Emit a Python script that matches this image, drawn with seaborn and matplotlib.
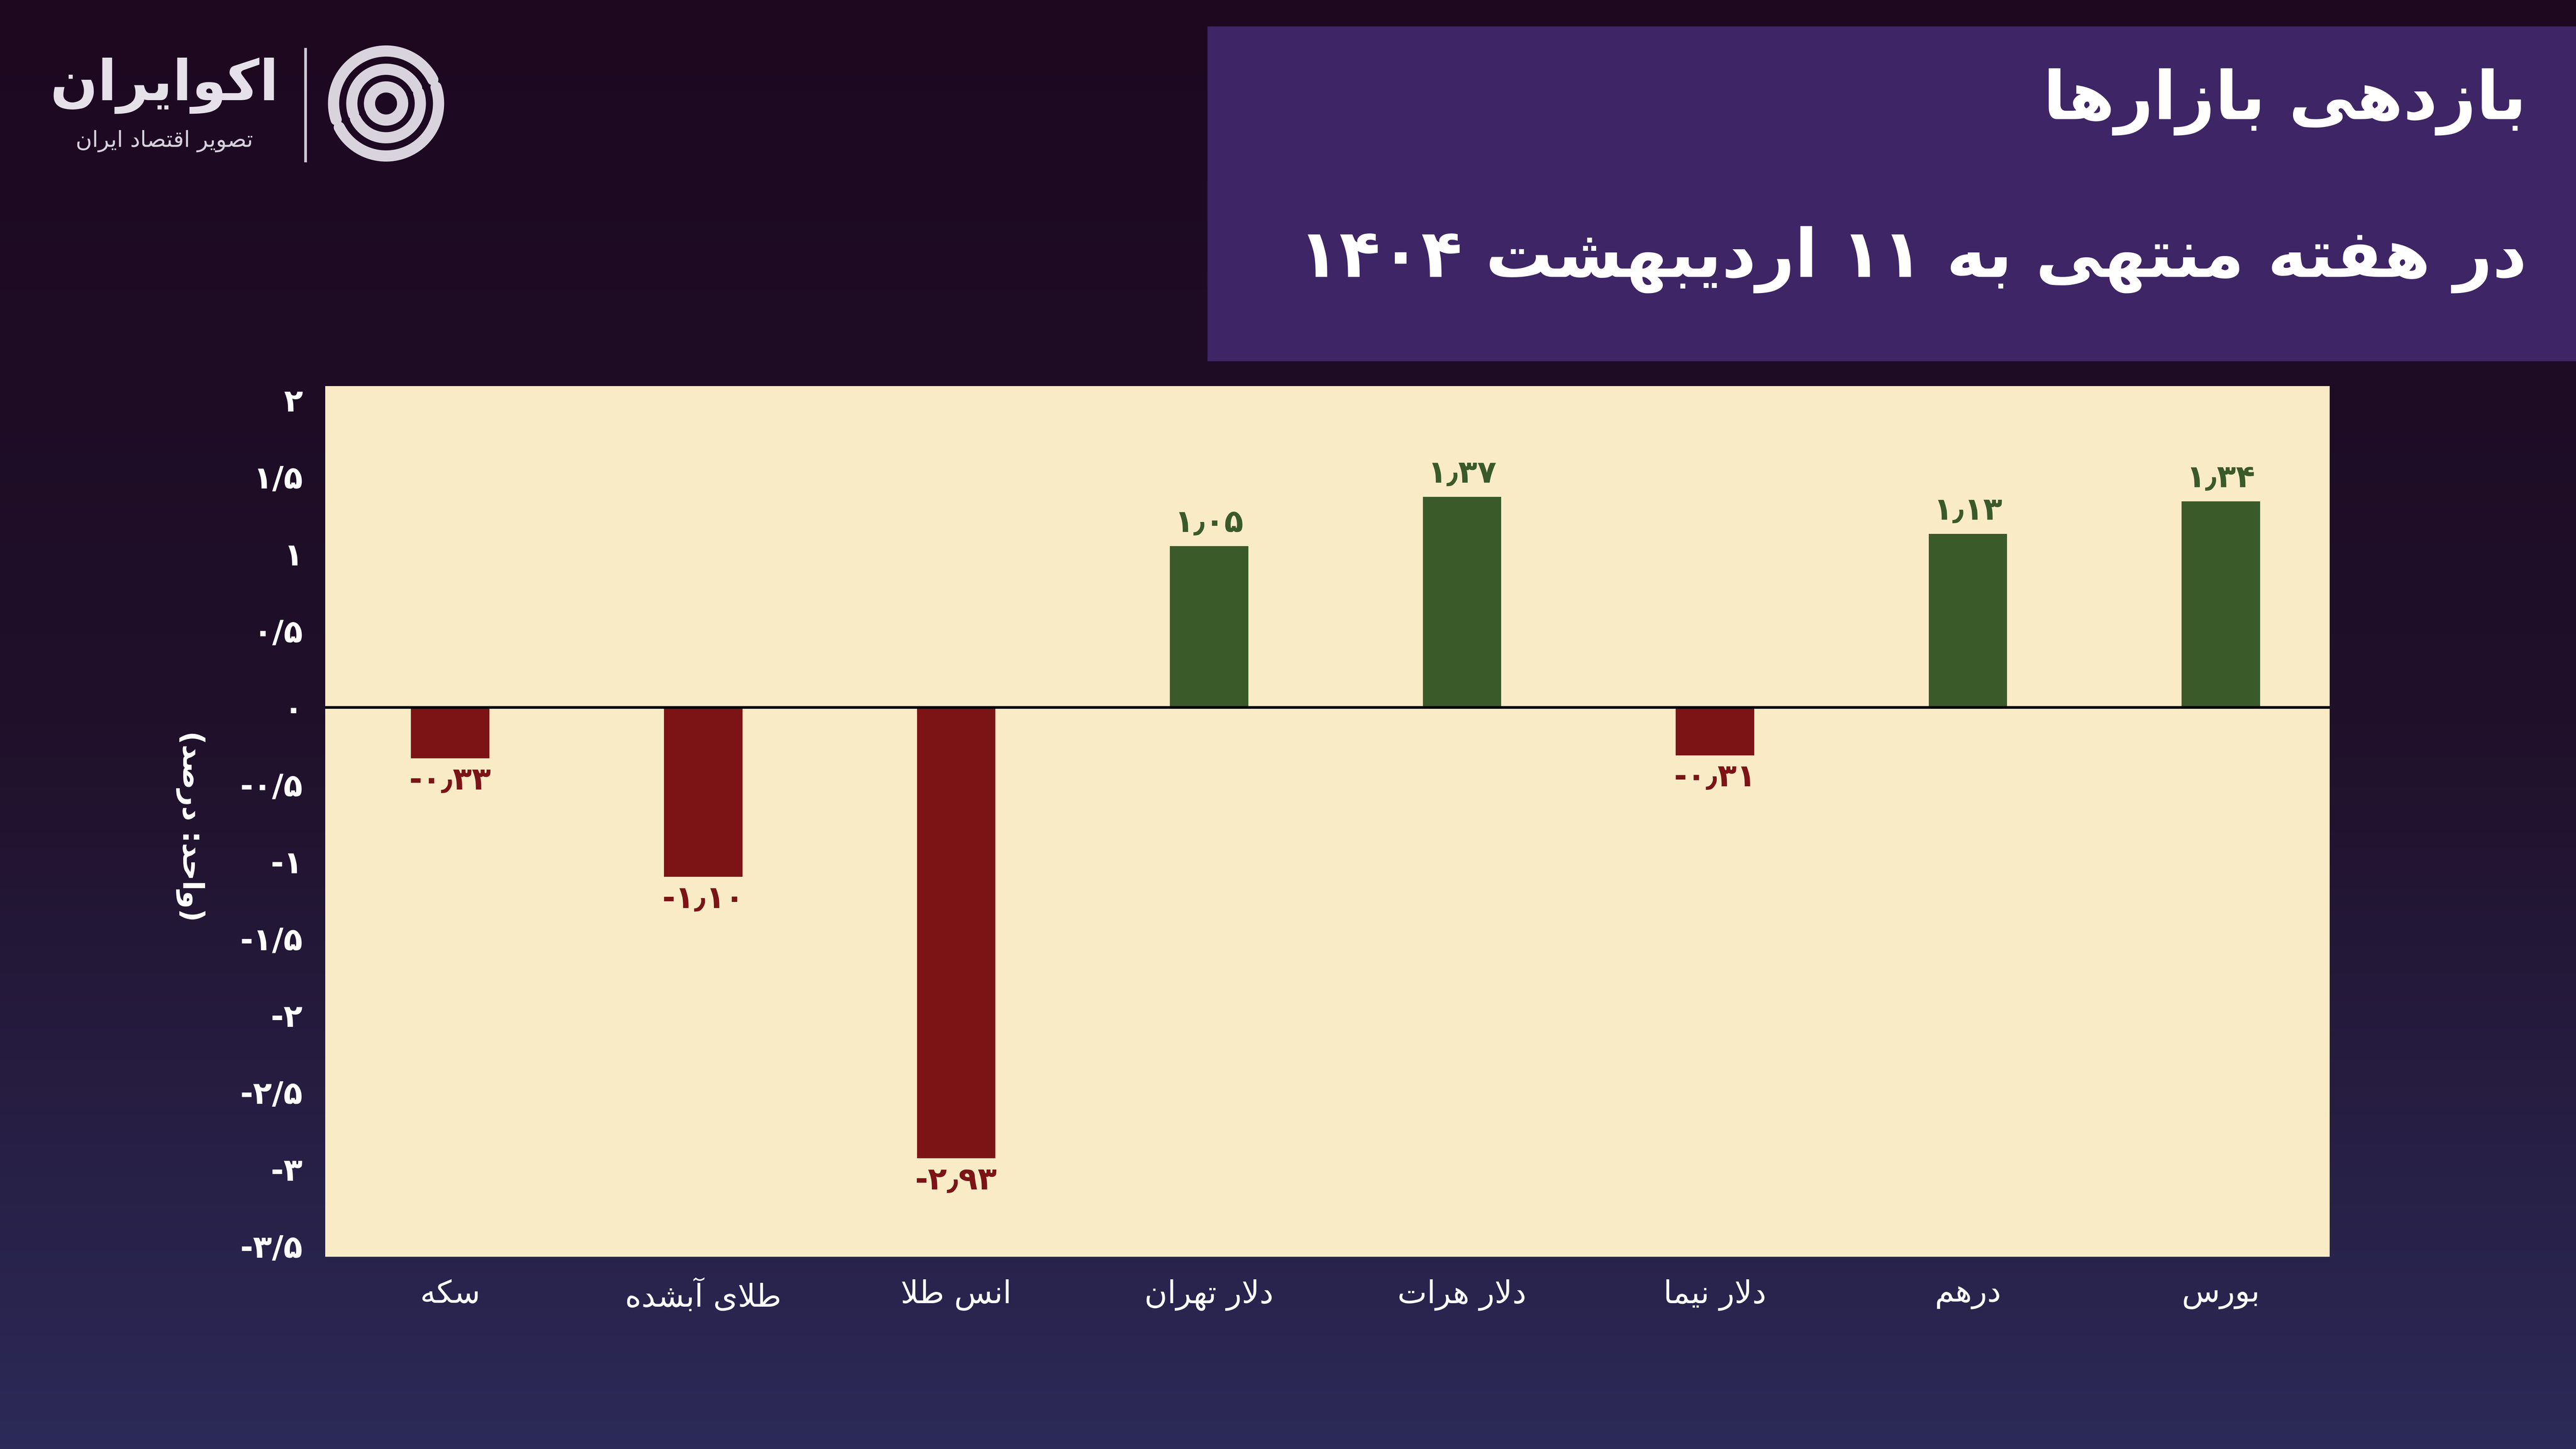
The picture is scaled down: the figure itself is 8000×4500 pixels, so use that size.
import numpy as np
import pandas as pd
import matplotlib
matplotlib.use("Agg")
import matplotlib.pyplot as plt
import seaborn as sns
from matplotlib.colors import LinearSegmentedColormap

# ---------------- data ----------------
categories = ["سکه", "طلای آبشده", "انس طلا", "دلار تهران", "دلار هرات", "دلار نیما", "درهم", "بورس"]
values = [-0.33, -1.10, -2.93, 1.05, 1.37, -0.31, 1.13, 1.34]
value_labels = ["-۰٫۳۳", "-۱٫۱۰", "-۲٫۹۳", "۱٫۰۵", "۱٫۳۷", "-۰٫۳۱", "۱٫۱۳", "۱٫۳۴"]
y_ticks = [2, 1.5, 1, 0.5, 0, -0.5, -1, -1.5, -2, -2.5, -3, -3.5]
y_tick_labels = ["۲", "۱/۵", "۱", "۰/۵", "۰", "-۰/۵", "-۱", "-۱/۵", "-۲", "-۲/۵", "-۳", "-۳/۵"]
title = "بازدهی بازارها"
subtitle = "در هفته منتهی به ۱۱ اردیبهشت ۱۴۰۴"
y_label = "(واحد: درصد)"
brand = "اکوایران"
brand_sub = "تصویر اقتصاد ایران"

# ---------------- minimal Arabic/Persian shaper ----------------
FORMS = {
    'ا': (0xFE8D, 0xFE8E, None, None), 'آ': (0xFE81, 0xFE82, None, None),
    'ب': (0xFE8F, 0xFE90, 0xFE91, 0xFE92), 'پ': (0xFB56, 0xFB57, 0xFB58, 0xFB59),
    'ت': (0xFE95, 0xFE96, 0xFE97, 0xFE98), 'ث': (0xFE99, 0xFE9A, 0xFE9B, 0xFE9C),
    'ج': (0xFE9D, 0xFE9E, 0xFE9F, 0xFEA0), 'چ': (0xFB7A, 0xFB7B, 0xFB7C, 0xFB7D),
    'ح': (0xFEA1, 0xFEA2, 0xFEA3, 0xFEA4), 'خ': (0xFEA5, 0xFEA6, 0xFEA7, 0xFEA8),
    'د': (0xFEA9, 0xFEAA, None, None), 'ذ': (0xFEAB, 0xFEAC, None, None),
    'ر': (0xFEAD, 0xFEAE, None, None), 'ز': (0xFEAF, 0xFEB0, None, None),
    'ژ': (0xFB8A, 0xFB8B, None, None),
    'س': (0xFEB1, 0xFEB2, 0xFEB3, 0xFEB4), 'ش': (0xFEB5, 0xFEB6, 0xFEB7, 0xFEB8),
    'ص': (0xFEB9, 0xFEBA, 0xFEBB, 0xFEBC), 'ض': (0xFEBD, 0xFEBE, 0xFEBF, 0xFEC0),
    'ط': (0xFEC1, 0xFEC2, 0xFEC3, 0xFEC4), 'ظ': (0xFEC5, 0xFEC6, 0xFEC7, 0xFEC8),
    'ع': (0xFEC9, 0xFECA, 0xFECB, 0xFECC), 'غ': (0xFECD, 0xFECE, 0xFECF, 0xFED0),
    'ف': (0xFED1, 0xFED2, 0xFED3, 0xFED4), 'ق': (0xFED5, 0xFED6, 0xFED7, 0xFED8),
    'ک': (0xFB8E, 0xFB8F, 0xFB90, 0xFB91), 'گ': (0xFB92, 0xFB93, 0xFB94, 0xFB95),
    'ل': (0xFEDD, 0xFEDE, 0xFEDF, 0xFEE0), 'م': (0xFEE1, 0xFEE2, 0xFEE3, 0xFEE4),
    'ن': (0xFEE5, 0xFEE6, 0xFEE7, 0xFEE8), 'و': (0xFEED, 0xFEEE, None, None),
    'ه': (0xFEE9, 0xFEEA, 0xFEEB, 0xFEEC), 'ی': (0xFBFC, 0xFBFD, 0xFBFE, 0xFBFF),
}
LAM_ALEF = {'ا': (0xFEFB, 0xFEFC), 'آ': (0xFEF5, 0xFEF6)}


def joins_left(c):
    return c in FORMS and FORMS[c][2] is not None


def shape(text):
    chars = list(text)
    out = []
    i = 0
    n = len(chars)
    while i < n:
        c = chars[i]
        if c not in FORMS:
            out.append(c)
            i += 1
            continue
        prev = chars[i - 1] if i > 0 else None
        pj = prev is not None and joins_left(prev)
        if c == 'ل' and i + 1 < n and chars[i + 1] in LAM_ALEF:
            iso, fin = LAM_ALEF[chars[i + 1]]
            out.append(chr(fin if pj else iso))
            i += 2
            continue
        nxt = chars[i + 1] if i + 1 < n else None
        nj = joins_left(c) and nxt is not None and nxt in FORMS
        iso, fin, ini, med = FORMS[c]
        if pj and nj:
            f = med
        elif pj:
            f = fin
        elif nj:
            f = ini
        else:
            f = iso
        out.append(chr(f))
        i += 1
    return out


DIGITISH = set("-۰۱۲۳۴۵۶۷۸۹0123456789٫/.")
MIRROR = {'(': ')', ')': '('}


def fa(text):
    shaped = shape(text)
    runs = []
    buf = []
    for ch in shaped:
        if ch in DIGITISH:
            buf.append(ch)
        else:
            if buf:
                runs.append(''.join(buf)); buf = []
            runs.append(MIRROR.get(ch, ch))
    if buf:
        runs.append(''.join(buf))
    return ''.join(reversed(runs))


# ---------------- figure ----------------
FONT = "DejaVu Sans"
plt.rcParams["font.family"] = FONT
W, H = 1568, 882
fig = plt.figure(figsize=(16, 9), dpi=500)


def fx(x):
    return x / W


def fy(y):
    return 1 - y / H


bg = fig.add_axes([0, 0, 1, 1])
cmap = LinearSegmentedColormap.from_list("bg", ["#1d0820", "#20102a", "#2c2a58"])
grad = np.linspace(0, 1, 256).reshape(-1, 1)
bg.imshow(grad, aspect="auto", cmap=cmap, extent=[0, 1, 0, 1], origin="upper")
bg.axis("off")

# title box
box = fig.add_axes([fx(735), fy(220), fx(1568 - 735), (220 - 16) / H])
box.set_facecolor("#3e2566")
box.set_xticks([]); box.set_yticks([])
for s in box.spines.values():
    s.set_visible(False)
fig.text(fx(1538), fy(62), fa(title), color="white", fontsize=30, fontweight="bold",
         ha="right", va="center")
fig.text(fx(1538), fy(158), fa(subtitle), color="white", fontsize=30, fontweight="bold",
         ha="right", va="center")

# logo
fig.text(fx(100), fy(52), fa(brand), color="#e6e0ea", fontsize=25, fontweight="bold",
         ha="center", va="center")
fig.text(fx(100), fy(86), fa(brand_sub), color="#d8d0de", fontsize=10,
         ha="center", va="center")
fig.lines.append(plt.Line2D([fx(186), fx(186)], [fy(30), fy(98)], color="#cfc8d6",
                            lw=1.2, transform=fig.transFigure))
lax = fig.add_axes([fx(198), fy(100), fx(74), 74 / H])
lax.set_xlim(-1.1, 1.1); lax.set_ylim(-1.1, 1.1); lax.set_aspect("equal"); lax.axis("off")
t = np.linspace(0.15 * np.pi, 1.1 * np.pi, 60)
for r in [0.95, 0.62, 0.3]:
    lax.plot(r * np.cos(t), r * np.sin(t), color="#d9d3dd", lw=5, solid_capstyle="round")
    lax.plot(-r * np.cos(t), -r * np.sin(t), color="#d9d3dd", lw=5, solid_capstyle="round")

# main chart
ax = fig.add_axes([fx(198), fy(765), fx(1418 - 198), (765 - 235) / H])
ax.set_facecolor("#f9ebc6")
df = pd.DataFrame({"cat": categories, "val": values,
                   "sign": ["pos" if v >= 0 else "neg" for v in values]})
sns.barplot(data=df, x="cat", y="val", hue="sign", order=categories,
            palette={"pos": "#3b5a2a", "neg": "#7c1416"}, width=0.31, dodge=False,
            legend=False, ax=ax, saturation=1)
ax.set_ylim(-3.57, 2.09)
ax.set_xlim(-0.494, 7.43)
ax.axhline(0, color="black", lw=1.2)
for s in ax.spines.values():
    s.set_visible(False)
ax.set_yticks(y_ticks)
ax.set_yticklabels([fa(l) for l in y_tick_labels], color="white", fontsize=14, fontweight="bold")
ax.set_xticks(range(len(categories)))
ax.set_xticklabels([fa(c) for c in categories], color="white", fontsize=14)
ax.tick_params(axis="both", length=0, pad=10)
ax.set_xlabel(""); ax.set_ylabel("")
fig.text(fx(116), fy(503), fa(y_label), color="white", fontsize=13, fontweight="bold",
         rotation=270, ha="center", va="center")

for i, (v, lab) in enumerate(zip(values, value_labels)):
    col = "#3b5a2a" if v >= 0 else "#7c1416"
    off = 0.05 if v >= 0 else -0.05
    ax.text(i, v + off, fa(lab), color=col, fontsize=14, fontweight="bold",
            ha="center", va="bottom" if v >= 0 else "top")

fig.savefig("out.png", dpi=500)
